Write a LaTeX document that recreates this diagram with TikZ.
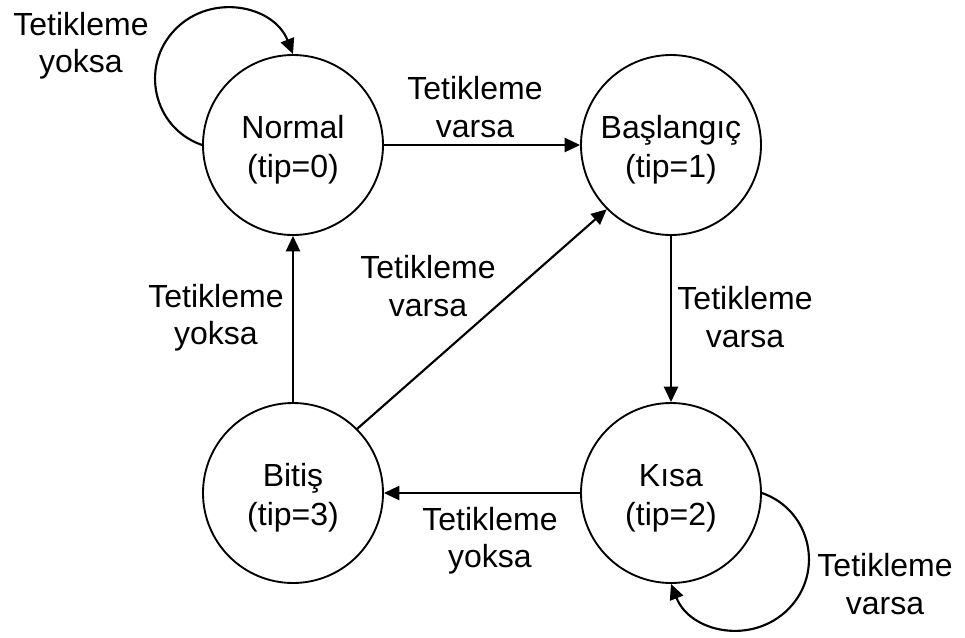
\documentclass[tikz,border=0pt]{standalone}
\usepackage{fontspec}
\setmainfont{Liberation Sans}
\usetikzlibrary{arrows.meta,calc}
\begin{document}
\begin{tikzpicture}[x=0.75pt,y=-0.75pt,
  state/.style={draw=black,line width=1.4pt,circle,minimum size=135pt,inner sep=0pt},
  statetext/.style={align=center,font=\fontsize{24}{29.5}\selectfont,inner sep=0pt},
  lbl/.style={align=center,font=\fontsize{24}{28}\selectfont,inner sep=0pt},
  edge/.style={line width=1.6pt,-{Triangle[length=11.5pt,width=10.5pt]}}]
  % canvas
  \fill[white] (0,0) rectangle (965,637);
  \useasboundingbox (0,0) rectangle (965,637);

  % states
  \node[state] (n) at (293,145) {};
  \node[state] (b) at (671,145) {};
  \node[state] (k) at (671,493) {};
  \node[state] (t) at (293,493) {};
  \node[statetext] (n-txt) at ($(n)+(0,5)$) {Normal\\(tip=0)};
  \node[statetext] (b-txt) at ($(b)+(0,5)$) {Başlangıç\\(tip=1)};
  \node[statetext] (k-txt) at ($(k)+(0,5)$) {Kısa\\(tip=2)};
  \node[statetext] (t-txt) at ($(t)+(0,5)$) {Bitiş\\(tip=3)};

  % transitions
  \draw[edge] (n.east) -- (b.west);
  \draw[edge] (b.south) -- (k.north);
  \draw[edge] (k.west) -- (t.east);
  \draw[edge] (t.north) -- (n.south);
  \draw[edge] (t.45) -- (b.225);

  % self loops
  \draw[edge] (n.west)
    .. controls ($(n)+(-139.8,-16.9)$) and ($(n)+(-153.8,-79)$) .. ($(n)+(-117.6,-115.8)$)
    .. controls ($(n)+(-81.4,-152.6)$) and ($(n)+(-19.2,-139.6)$) .. (n.north);
  \draw[edge] (k.east)
    .. controls ($(k)+(139.8,16.9)$) and ($(k)+(153.8,79)$) .. ($(k)+(117.6,115.8)$)
    .. controls ($(k)+(81.4,152.6)$) and ($(k)+(19.2,139.6)$) .. (k.south);

  % transition labels
  \node[lbl] (l1) at (81,46) {Tetikleme\\yoksa};
  \node[lbl] (l2) at (475,107) {Tetikleme\\varsa};
  \node[lbl] (l3) at (428,286) {Tetikleme\\varsa};
  \node[lbl] (l4) at (216,318) {Tetikleme\\yoksa};
  \node[lbl] (l5) at (745,317) {Tetikleme\\varsa};
  \node[lbl] (l6) at (490,541) {Tetikleme\\yoksa};
  \node[lbl] (l7) at (885,584) {Tetikleme\\varsa};
\end{tikzpicture}
\end{document}
